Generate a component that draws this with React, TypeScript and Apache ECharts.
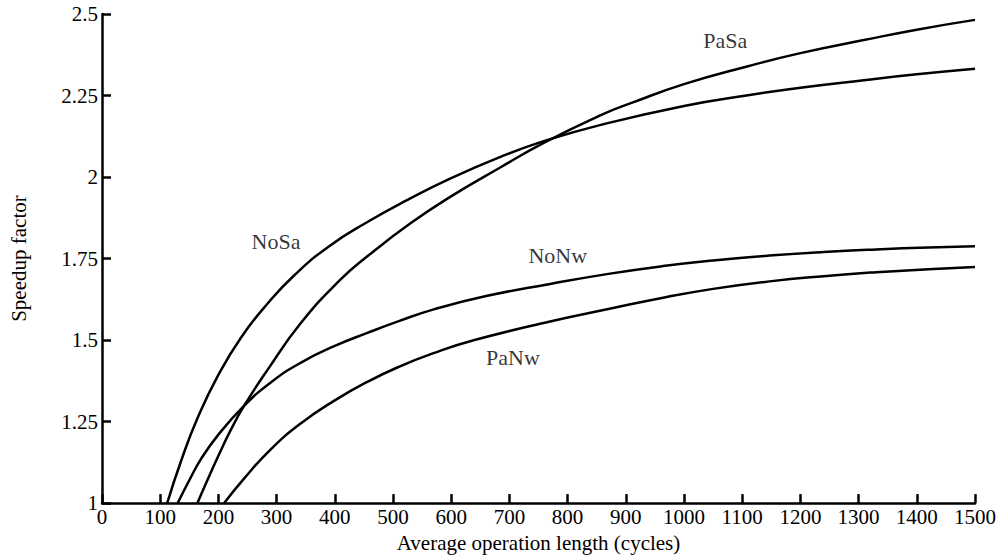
import React, { useEffect, useRef } from "react";
import * as echarts from "echarts";

const xTicks = { min: 0, max: 1500, interval: 100 };
const yTicks = { min: 1, max: 2.5, interval: 0.25 };

const noSa: [number, number][] = [
  [112, 1.0], [136, 1.13], [164, 1.26], [199, 1.39], [239, 1.508], [285, 1.613],
  [330, 1.698], [388, 1.785], [456, 1.862], [525, 1.93], [599, 1.996], [685, 2.062],
  [759, 2.11], [857, 2.16], [1000, 2.218], [1110, 2.251], [1200, 2.274], [1309, 2.297],
  [1400, 2.315], [1500, 2.332],
];

const paSa: [number, number][] = [
  [164, 1.0], [181, 1.07], [200, 1.145], [220, 1.22], [244, 1.298], [285, 1.41],
  [342, 1.553], [410, 1.686], [456, 1.757], [530, 1.858], [599, 1.94], [685, 2.03],
  [759, 2.105], [857, 2.19], [911, 2.228], [1000, 2.285], [1110, 2.34], [1200, 2.38],
  [1309, 2.42], [1400, 2.452], [1500, 2.482],
];

const noNw: [number, number][] = [
  [130, 1.0], [150, 1.07], [170, 1.135], [200, 1.21], [244, 1.298], [290, 1.37],
  [342, 1.431], [400, 1.482], [456, 1.522], [510, 1.558], [570, 1.594], [660, 1.635],
  [770, 1.672], [870, 1.703], [964, 1.727], [1050, 1.744], [1147, 1.759], [1240, 1.77],
  [1330, 1.778], [1420, 1.784], [1500, 1.788],
];

const paNw: [number, number][] = [
  [210, 1.0], [244, 1.075], [290, 1.165], [342, 1.245], [400, 1.315], [456, 1.372],
  [510, 1.418], [570, 1.46], [640, 1.5], [770, 1.557], [870, 1.595], [964, 1.63],
  [1050, 1.657], [1147, 1.68], [1240, 1.696], [1330, 1.708], [1420, 1.717], [1500, 1.724],
];

const curveLabels: [number, number, string][] = [
  [299, 1.802, "NoSa"],
  [1071, 2.42, "PaSa"],
  [783, 1.759, "NoNw"],
  [706, 1.447, "PaNw"],
];

const xTitle = "Average operation length (cycles)";
const yTitle = "Speedup factor";

const FONT = "'Liberation Serif', 'Times New Roman', serif";

export default function App() {
  const ref = useRef<HTMLDivElement>(null);
  useEffect(() => {
    if (!ref.current) return;
    const chart = echarts.init(ref.current, undefined, { renderer: "svg" });
    const lineSeries = (name: string, data: [number, number][]) => ({
      name,
      type: "line",
      data,
      smooth: 0.5,
      showSymbol: false,
      symbol: "none",
      clip: true,
      lineStyle: { color: "#000", width: 2.5 },
      emphasis: { disabled: true },
    });
    chart.setOption({
      animation: false,
      backgroundColor: "#fff",
      textStyle: { fontFamily: FONT },
      grid: { left: 101, right: 28, top: 14, bottom: 54 },
      xAxis: {
        type: "value",
        min: xTicks.min,
        max: xTicks.max,
        interval: xTicks.interval,
        name: xTitle,
        nameLocation: "middle",
        nameGap: 18,
        nameTextStyle: { color: "#000", fontSize: 21, fontFamily: FONT },
        axisLine: { show: true, lineStyle: { color: "#000", width: 2.5 } },
        axisTick: { show: true, inside: true, length: 9, lineStyle: { color: "#000", width: 2.5 } },
        axisLabel: {
          color: "#000",
          fontSize: 21,
          fontFamily: FONT,
          margin: 3,
          formatter: (v: number) => String(v),
        },
        splitLine: { show: false },
      },
      yAxis: {
        type: "value",
        min: yTicks.min,
        max: yTicks.max,
        interval: yTicks.interval,
        name: yTitle,
        nameLocation: "middle",
        nameGap: 73,
        nameRotate: 90,
        nameTextStyle: { color: "#000", fontSize: 21, fontFamily: FONT },
        axisLine: { show: true, lineStyle: { color: "#000", width: 2.5 } },
        axisTick: { show: true, inside: true, length: 9, lineStyle: { color: "#000", width: 2.5 } },
        axisLabel: {
          color: "#000",
          fontSize: 21,
          fontFamily: FONT,
          margin: 4,
          formatter: (v: number) => String(v),
        },
        splitLine: { show: false },
      },
      series: [
        lineSeries("NoSa", noSa),
        lineSeries("PaSa", paSa),
        lineSeries("NoNw", noNw),
        lineSeries("PaNw", paNw),
        {
          type: "scatter",
          data: curveLabels.map((d) => ({ value: [d[0], d[1]], name: d[2] })),
          symbolSize: 1,
          itemStyle: { color: "rgba(0,0,0,0)" },
          label: {
            show: true,
            position: "inside",
            formatter: (p: any) => p.name,
            color: "#000",
            fontSize: 22,
            fontFamily: FONT,
          },
          emphasis: { disabled: true },
          silent: true,
        },
      ],
    });
    return () => chart.dispose();
  }, []);
  return (
    <div
      ref={ref}
      style={{ position: "absolute", left: 0, top: 0, width: 1003, height: 558 }}
    />
  );
}
